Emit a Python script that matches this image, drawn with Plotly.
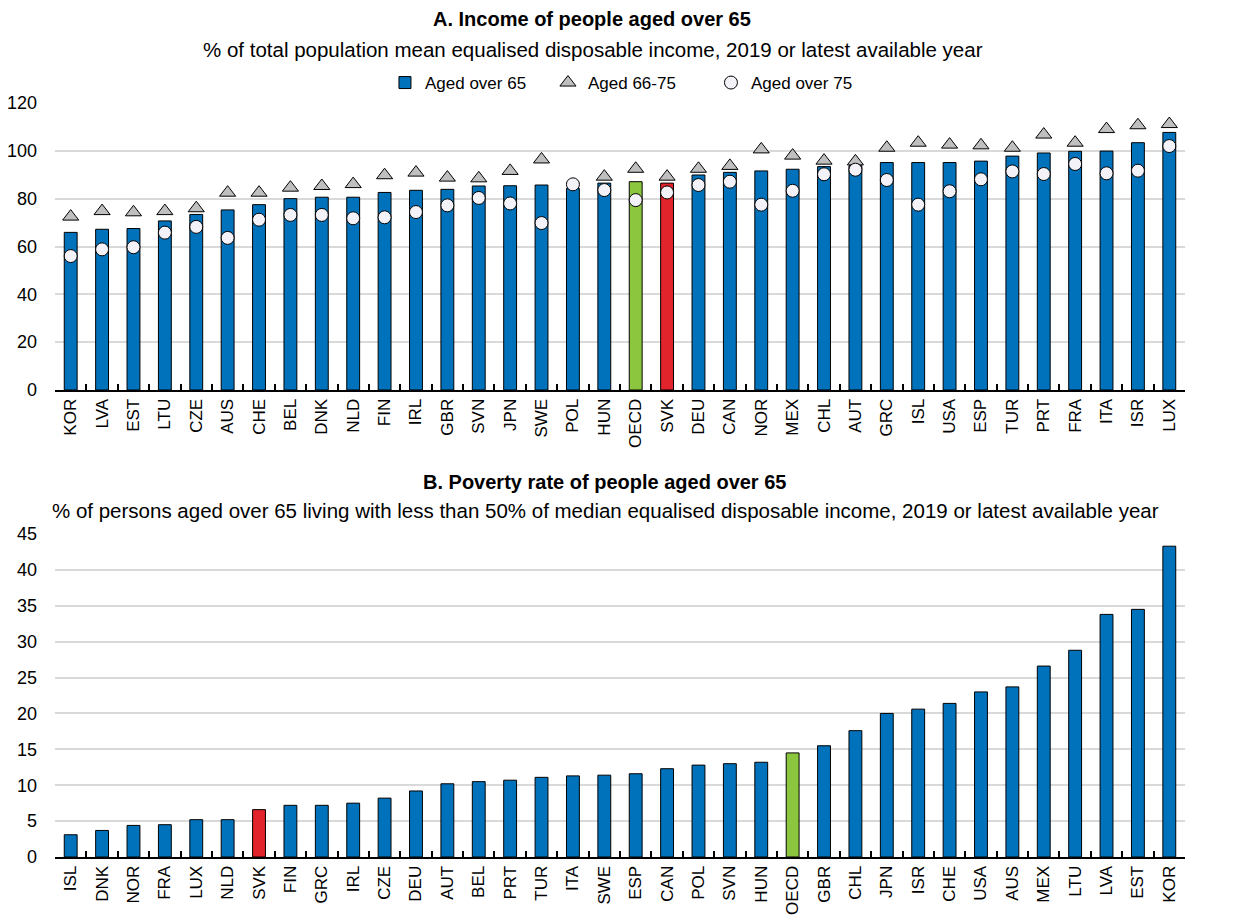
import plotly.graph_objects as go
from plotly.subplots import make_subplots

# Panel A: income of people aged over 65 (% of total population mean)
paises_a = ["KOR", "LVA", "EST", "LTU", "CZE", "AUS", "CHE", "BEL", "DNK", "NLD", "FIN", "IRL",
            "GBR", "SVN", "JPN", "SWE", "POL", "HUN", "OECD", "SVK", "DEU", "CAN", "NOR", "MEX",
            "CHL", "AUT", "GRC", "ISL", "USA", "ESP", "TUR", "PRT", "FRA", "ITA", "ISR", "LUX"]
over65 = [65.9, 67.2, 67.5, 70.7, 73.4, 75.3, 77.5, 80.0, 80.6, 80.6, 82.6, 83.5,
          83.9, 85.3, 85.4, 85.7, 84.3, 86.5, 87.1, 86.5, 89.9, 91.0, 91.6, 92.3,
          93.4, 93.8, 95.1, 95.1, 95.1, 95.7, 97.8, 99.1, 99.8, 99.9, 103.4, 107.7]
aged_66_75 = [72.5, 74.8, 74.3, 74.8, 76.0, 82.5, 82.5, 84.6, 85.3, 86.1, 89.8, 90.9,
              88.8, 88.5, 91.6, 96.4, None, 89.2, 92.5, 89.2, 92.5, 93.7, 100.6, 98.0,
              95.9, 95.6, 101.3, 103.4, 102.6, 102.3, 101.3, 106.8, 103.4, 109.1, 110.7, 111.2]
over75 = [56.0, 58.8, 59.7, 65.8, 68.2, 63.6, 71.2, 73.2, 73.2, 71.8, 72.2, 74.4,
          77.2, 80.3, 78.0, 69.8, 86.0, 83.6, 79.4, 82.6, 85.7, 87.1, 77.5, 83.3,
          90.2, 92.1, 87.8, 77.5, 83.1, 88.1, 91.4, 90.3, 94.5, 90.6, 91.7, 102.0]

# Panel B: poverty rate of people aged over 65
paises_b = ["ISL", "DNK", "NOR", "FRA", "LUX", "NLD", "SVK", "FIN", "GRC", "IRL", "CZE", "DEU",
            "AUT", "BEL", "PRT", "TUR", "ITA", "SWE", "ESP", "CAN", "POL", "SVN", "HUN", "OECD",
            "GBR", "CHL", "JPN", "ISR", "CHE", "USA", "AUS", "MEX", "LTU", "LVA", "EST", "KOR"]
pobreza = [3.1, 3.7, 4.4, 4.5, 5.2, 5.2, 6.6, 7.2, 7.2, 7.5, 8.2, 9.2,
           10.2, 10.5, 10.7, 11.1, 11.3, 11.4, 11.6, 12.3, 12.8, 13.0, 13.2, 14.5,
           15.5, 17.6, 20.0, 20.6, 21.4, 23.0, 23.7, 26.6, 28.8, 33.8, 34.5, 43.3]

AZUL = "#0072bc"
VERDE = "#8cc63f"
ROJO = "#e1232b"
FUENTE = "Liberation Sans, Arial, sans-serif"

# la página añade 8 px de margen al cuerpo: la figura empieza en (8, 8) de la ventana
ANCHO, ALTO = 1234, 912


def py(y_px):
    # posición vertical en píxeles de pantalla -> fracción del papel
    return 1 - (y_px - 8) / ALTO


def colores(paises):
    return [VERDE if p == "OECD" else ROJO if p == "SVK" else AZUL for p in paises]


fig = make_subplots(rows=2, cols=1, specs=[[{"secondary_y": True}], [{"secondary_y": True}]])

# Panel A
fig.add_trace(go.Bar(x=paises_a, y=over65, name="Aged over 65", width=0.41,
                     marker=dict(color=colores(paises_a), line=dict(color="black", width=1))),
              row=1, col=1)
fig.add_trace(go.Scatter(x=paises_a, y=aged_66_75, name="Aged 66-75", mode="markers",
                         marker=dict(symbol="triangle-up", size=14, color="#bfbfbf",
                                     line=dict(color="black", width=1))),
              row=1, col=1)
fig.add_trace(go.Scatter(x=paises_a, y=over75, name="Aged over 75", mode="markers",
                         marker=dict(symbol="circle", size=13, color="#f2f2f8",
                                     line=dict(color="black", width=1))),
              row=1, col=1)

# Panel B
fig.add_trace(go.Bar(x=paises_b, y=pobreza, name="Poverty rate", width=0.41, showlegend=False,
                     marker=dict(color=colores(paises_b), line=dict(color="black", width=1))),
              row=2, col=1)

fig.update_layout(
    width=ANCHO,
    height=ALTO,
    margin=dict(l=47, r=ANCHO - 1177, t=0, b=0, autoexpand=False),
    plot_bgcolor="white",
    paper_bgcolor="white",
    font=dict(family=FUENTE, size=17, color="black"),
    legend=dict(orientation="h", x=0.292, xanchor="left", y=py(83), yanchor="middle",
                entrywidth=118, font=dict(size=17), bgcolor="rgba(0,0,0,0)",
                traceorder="normal"),
)

ejes_x = dict(showline=True, linecolor="black", linewidth=2, ticks="inside", ticklen=6,
              tickcolor="black", tickwidth=1.5, tickson="boundaries", tickangle=-90,
              showgrid=False, tickfont=dict(size=17), automargin=False,
              range=[-0.5, 35.5], domain=[0, 1])
fig.update_xaxes(**ejes_x, row=1, col=1)
fig.update_xaxes(**ejes_x, row=2, col=1)

dom_a = [py(390), py(103)]
dom_b = [py(857), py(534)]

ejes_y = dict(showgrid=True, gridcolor="#d9d9d9", gridwidth=1.5, zeroline=False, ticks="",
              showline=False, ticklabelstandoff=17, tickfont=dict(size=18), automargin=False)
eje_der = dict(side="right", showgrid=False, zeroline=False, ticks="", ticklabelstandoff=17,
               tickfont=dict(size=18), automargin=False)
fig.update_layout(
    yaxis=dict(domain=dom_a, range=[0, 120], dtick=20, **ejes_y),
    yaxis2=dict(domain=dom_a, range=[0, 120], dtick=20, overlaying="y", **eje_der),
    yaxis3=dict(domain=dom_b, range=[0, 45], dtick=5, **ejes_y),
    yaxis4=dict(domain=dom_b, range=[0, 45], dtick=5, overlaying="y3", **eje_der),
)

# Títulos de los paneles
titulos = [
    ("<b>A. Income of people aged over 65</b>", 0.475, py(19), 20),
    ("% of total population mean equalised disposable income, 2019 or latest available year",
     0.476, py(50), 20.5),
    ("<b>B. Poverty rate of people aged over 65</b>", 0.486, py(482), 20),
    ("% of persons aged over 65 living with less than 50% of median equalised disposable income, "
     "2019 or latest available year", 0.487, py(510), 20.5),
]
for texto, x, y, tam in titulos:
    fig.add_annotation(text=texto, x=x, y=y, xref="paper", yref="paper", showarrow=False,
                       xanchor="center", yanchor="middle", font=dict(size=tam))

fig.write_html("out.html")
